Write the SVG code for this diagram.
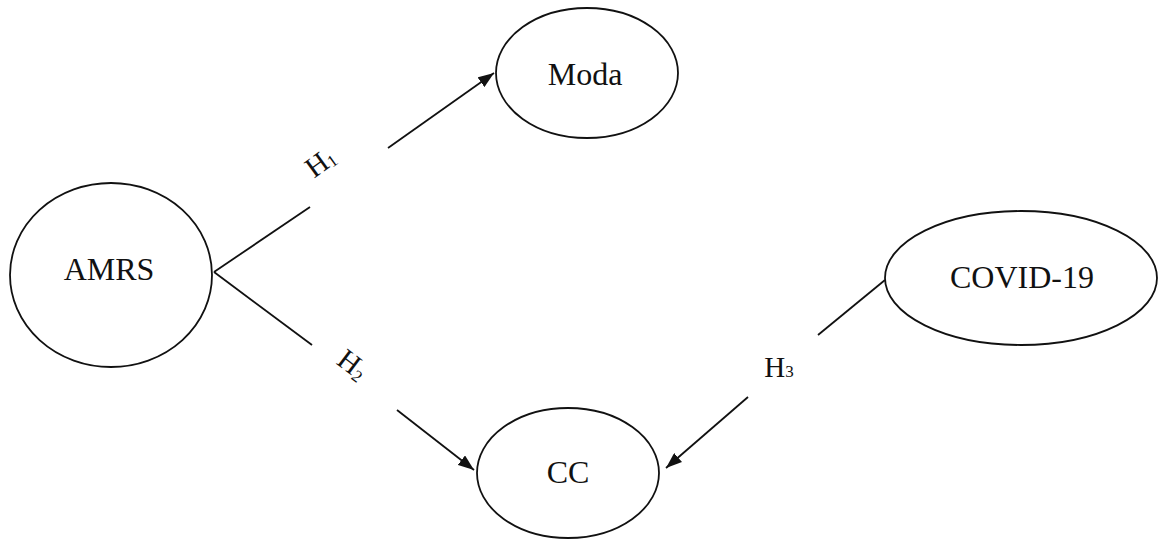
<svg xmlns="http://www.w3.org/2000/svg" width="1160" height="541" viewBox="0 0 1160 541">
<defs>
<style>
.node{fill:#fff;stroke:#111;stroke-width:1.8}
.lbl{font-family:"Liberation Serif",serif;font-size:32px;fill:#111;text-anchor:middle}
.h{font-family:"Liberation Serif",serif;font-size:29px;fill:#111}
.sub{font-size:17px}
.edge{stroke:#111;stroke-width:1.8;fill:none}
</style>
<marker id="ah" viewBox="0 0 16 12" refX="16" refY="6" markerWidth="16" markerHeight="12" markerUnits="userSpaceOnUse" orient="auto">
<path d="M0,0 L16,6 L0,12 z" fill="#111"/>
</marker>
</defs>
<rect width="1160" height="541" fill="#fff"/>
<g id="connectors">
<line class="edge" x1="214" y1="272" x2="310" y2="207"/>
<line class="edge" x1="388" y1="148" x2="494" y2="73" marker-end="url(#ah)"/>
<line class="edge" x1="214" y1="272" x2="312" y2="345"/>
<line class="edge" x1="397" y1="410" x2="474" y2="470" marker-end="url(#ah)"/>
<line class="edge" x1="885" y1="280" x2="818" y2="335"/>
<line class="edge" x1="748" y1="397" x2="666" y2="468" marker-end="url(#ah)"/>
<text class="h" transform="translate(326,170) rotate(-36)" text-anchor="middle">H<tspan class="sub" dy="2">1</tspan></text>
<text class="h" transform="translate(347,372) rotate(37)" text-anchor="middle">H<tspan class="sub" dy="3">2</tspan></text>
<text class="h" x="779" y="377" text-anchor="middle">H<tspan class="sub" dy="0">3</tspan></text>
</g>
<g id="AMRS">
<ellipse class="node" cx="111" cy="275" rx="101" ry="92"/>
<text class="lbl" x="109" y="280">AMRS</text>
</g>
<g id="Moda">
<ellipse class="node" cx="587" cy="73" rx="91" ry="65"/>
<text class="lbl" x="585" y="85">Moda</text>
</g>
<g id="CC">
<ellipse class="node" cx="568" cy="473" rx="91" ry="65"/>
<text class="lbl" x="568" y="483">CC</text>
</g>
<g id="COVID-19">
<ellipse class="node" cx="1021" cy="278" rx="136" ry="67"/>
<text class="lbl" x="1022" y="288">COVID-19</text>
</g>
</svg>
